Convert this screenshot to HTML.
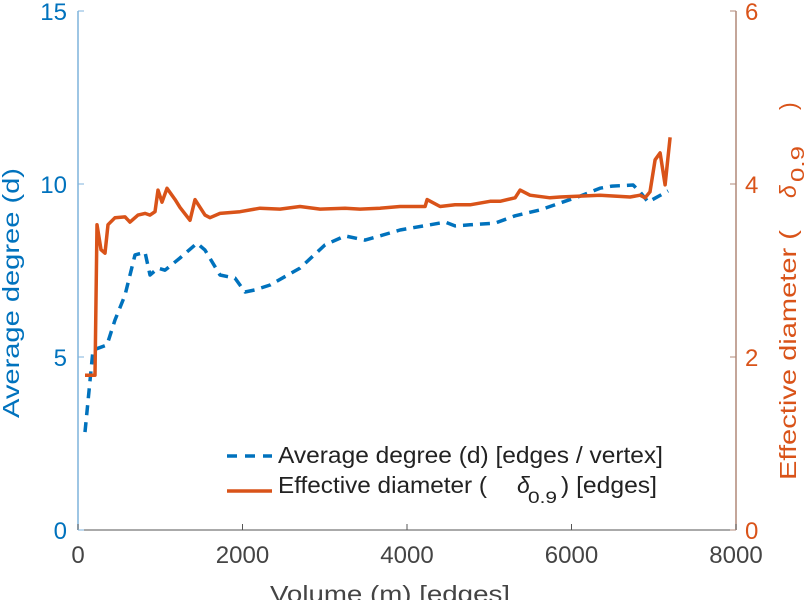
<!DOCTYPE html>
<html><head><meta charset="utf-8"><style>
html,body{margin:0;padding:0;background:#fff;overflow:hidden;}
svg{display:block;font-family:"Liberation Sans",sans-serif;}
</style></head><body>
<svg id="chart" width="812" height="600" viewBox="0 0 812 600">
<g id="axes"></g>
<g id="series"></g>
<g>
  <line x1="227" y1="456" x2="272" y2="456" stroke="#0072BD" stroke-width="3.5" stroke-dasharray="10,8"/>
  <text x="278" y="463" font-size="23" textLength="385" lengthAdjust="spacingAndGlyphs" fill="#222">Average degree (d) [edges / vertex]</text>
  <line x1="227" y1="491" x2="272" y2="491" stroke="#D95319" stroke-width="3.5"/>
  <text x="278" y="493" font-size="23" textLength="209" lengthAdjust="spacingAndGlyphs" fill="#222">Effective diameter (</text>
  <text x="517" y="493" font-size="23" fill="#222" font-style="italic">δ</text>
  <text x="528" y="503" font-size="17" textLength="29" lengthAdjust="spacingAndGlyphs" fill="#222">0.9</text>
  <text x="561" y="493" font-size="23" textLength="96" lengthAdjust="spacingAndGlyphs" fill="#222">) [edges]</text>
</g>
<text x="270" y="602" font-size="23" textLength="240" lengthAdjust="spacingAndGlyphs" fill="#444">Volume (m) [edges]</text>
<text transform="translate(19,418) rotate(-90)" font-size="23" textLength="250" lengthAdjust="spacingAndGlyphs" fill="#0072BD">Average degree (d)</text>
<g transform="translate(796,290) rotate(-90)">
  <text x="-190" y="0" font-size="23" textLength="250" lengthAdjust="spacingAndGlyphs" fill="#D95319">Effective diameter (</text>
  <text x="92" y="0" font-size="23" fill="#D95319" font-style="italic">δ</text>
  <text x="108" y="8" font-size="18" textLength="36" lengthAdjust="spacingAndGlyphs" fill="#D95319">0.9</text>
  <text x="180" y="0" font-size="23" fill="#D95319">)</text>
</g>
</svg>
<script>
const xTicks=[0,2000,4000,6000,8000];
const leftTicks=[0,5,10,15];
const rightTicks=[0,2,4,6];
const degreeM=[85,182,353,450,571,693,815,875,973,1058,1240,1447,1544,1727,1909,2030,2152,2335,2699,3003,3246,3490,3672,3915,4280,4463,4584,4767,5071,5314,5618,5861,6104,6347,6493,6749,6834,6931,7077,7175];
const degreeVals=[2.83,5.2,5.35,6.07,6.79,7.95,8.03,7.37,7.57,7.51,7.86,8.29,8.09,7.37,7.28,6.88,6.94,7.08,7.57,8.24,8.5,8.38,8.5,8.67,8.82,8.9,8.79,8.82,8.87,9.08,9.25,9.45,9.65,9.88,9.94,9.97,9.77,9.48,9.67,9.8];
const diamM=[85,207,231,280,328,365,450,571,632,730,815,875,936,973,1021,1082,1180,1240,1362,1423,1544,1605,1727,1970,2213,2456,2699,2943,3246,3429,3672,3915,4220,4244,4402,4584,4767,5010,5132,5314,5375,5496,5739,5861,6104,6347,6712,6834,6895,6955,7016,7077,7138,7199];
const diamVals=[1.79,1.79,3.53,3.24,3.2,3.53,3.61,3.62,3.56,3.64,3.66,3.64,3.68,3.93,3.79,3.95,3.82,3.73,3.58,3.82,3.64,3.61,3.66,3.68,3.72,3.71,3.74,3.71,3.72,3.71,3.72,3.74,3.74,3.82,3.74,3.76,3.76,3.8,3.8,3.84,3.93,3.87,3.84,3.85,3.86,3.87,3.85,3.87,3.84,3.91,4.28,4.36,3.99,4.54];
const X0=78,X1=736,YT=11,YB=530;
const xs=v=>X0+(v-0)/8000*(X1-X0);
const yl=v=>YB-v/15*(YB-YT);
const yr=v=>YB-v/6*(YB-YT);
const NS="http://www.w3.org/2000/svg";
function mk(tag,attrs,parent,txt){const e=document.createElementNS(NS,tag);for(const k in attrs)e.setAttribute(k,attrs[k]);if(txt!==undefined)e.textContent=txt;parent.appendChild(e);return e;}
const ax=document.getElementById('axes');
let e;
e=mk('line',{x1:X0,y1:YB,x2:X1,y2:YB,stroke:'#555','stroke-width':1},ax);


e=mk('line',{x1:X0,y1:YT,x2:X0,y2:YB,stroke:'#7fb3dc','stroke-width':1.5},ax);


e=mk('line',{x1:X1,y1:YT,x2:X1,y2:YB,stroke:'#b08878','stroke-width':1.5},ax);


xTicks.forEach(t=>{
  mk('line',{x1:xs(t),y1:YB,x2:xs(t),y2:YB-6,stroke:'#555'},ax);
  e=mk('text',{x:xs(t),y:YB+33,'text-anchor':'middle','font-size':24,fill:'#444'},ax,String(t));
  
  
});
leftTicks.forEach(t=>{
  mk('line',{x1:X0,y1:yl(t),x2:X0+6,y2:yl(t),stroke:'#7fb3dc'},ax);
  e=mk('text',{x:X0-11,y:yl(t)+9,'text-anchor':'end','font-size':24,fill:'#0072BD'},ax,String(t));
  
  
});
rightTicks.forEach(t=>{
  mk('line',{x1:X1,y1:yr(t),x2:X1-6,y2:yr(t),stroke:'#b08878'},ax);
  e=mk('text',{x:X1+9,y:yr(t)+9,'text-anchor':'start','font-size':24,fill:'#D95319'},ax,String(t));
  
  
});
const sg=document.getElementById('series');
const dpts=degreeM.map((m,i)=>xs(m).toFixed(1)+','+yl(degreeVals[i]).toFixed(1)).join(' ');
e=mk('polyline',{points:dpts,fill:'none',stroke:'#0072BD','stroke-width':3.5,'stroke-dasharray':'10,7','stroke-linejoin':'round'},sg);


const opts=diamM.map((m,i)=>xs(m).toFixed(1)+','+yr(diamVals[i]).toFixed(1)).join(' ');
e=mk('polyline',{points:opts,fill:'none',stroke:'#D95319','stroke-width':3.5,'stroke-linejoin':'round'},sg);


</script>
</body></html>
